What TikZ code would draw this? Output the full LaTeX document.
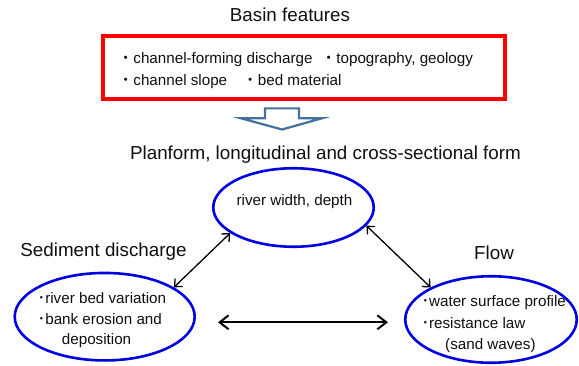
\documentclass[tikz,border=0pt]{standalone}
\usepackage{fontspec}
\setmainfont{Liberation Sans}
\newfontfamily\cjk{Noto Sans CJK JP}
\usetikzlibrary{arrows.meta, shapes.geometric}

\definecolor{boxred}{RGB}{255,0,0}
\definecolor{ringblue}{RGB}{0,0,225}
\definecolor{arrowblue}{RGB}{65,113,156}
\definecolor{ink}{RGB}{15,15,15}

\newcommand{\fullbul}{{\cjk ・}}
\newcommand{\halfbul}{{\cjk ･}}

\begin{document}
\begin{tikzpicture}[x=1pt, y=1pt,
  every node/.style={inner sep=0pt, text=ink},
  heading/.style={font=\fontsize{18.8}{22}\selectfont, anchor=base},
  item/.style={font=\fontsize{15.2}{20}\selectfont, anchor=base west},
  ring/.style={draw=ringblue, line width=2.6pt, ellipse},
  link/.style={arrows={Straight Barb[length=6pt,width=11pt]-Straight Barb[length=6pt,width=11pt]}, line width=1.3pt},
  widelink/.style={arrows={Straight Barb[length=9pt,width=14pt]-Straight Barb[length=9pt,width=14pt]}, line width=2pt}]
				\useasboundingbox (0,0) rectangle (579,365);

				% Basin features
				\node[heading] (basin) at (290,343.3) {Basin features};
				\node[draw=boxred, line width=4pt, minimum width=401.5pt, minimum height=63.5pt] (feat) at (303.75,297.25) {};
				\node[item] (qdis) at (118,301.7) {\fullbul channel-forming discharge};
				\node[item] (topo) at (321,301.7) {\fullbul topography, geology};
				\node[item] (slope) at (118,279.3) {\fullbul channel slope};
				\node[item] (bed) at (242.5,279.3) {\fullbul bed material};

				% Block arrow
				\draw[draw=arrowblue, line width=2.2pt, fill=white] (265,256.6) -- (299,256.6) -- (299,246.7) -- (322,246.7) -- (282,235.5) -- (241,246.7) -- (265,246.7) -- cycle;

				% Ellipses
				\node[heading] (plan) at (325.5,206) {Planform, longitudinal and cross-sectional form};
				\node[ring, minimum width=160.5pt, minimum height=78.5pt] (form) at (293.5,157.5) {};
				\node[item, anchor=base] (formtxt) at (294.5,159.3) {river width, depth};

				\node[heading] (sedtitle) at (103.5,108.3) {Sediment discharge};
				\node[ring, minimum width=180pt, minimum height=87.5pt] (sed) at (104.7,48.3) {};
				\node[item] (seda) at (37.5,61.7) {\halfbul river bed variation};
				\node[item] (sedb) at (37.5,40.6) {\halfbul bank erosion and};
				\node[item] (sedc) at (61.7,20.2) {deposition};

				\node[heading] (flowtitle) at (494,106) {Flow};
				\node[ring, minimum width=171.5pt, minimum height=86.5pt] (flow) at (491,45.5) {};
				\node[item] (flowa) at (421.3,59) {\halfbul water surface profile};
				\node[item] (flowb) at (421.3,37) {\halfbul resistance law};
				\node[item] (flowc) at (445,15.5) {(sand waves)};

				% Links
				\draw[link] (form.202) -- (sed.23);
				\draw[link] (form.346) -- (flow.152);
				\draw[widelink] ([xshift=22pt,yshift=-5.6pt]sed.east) -- ([xshift=-16pt,yshift=-2.8pt]flow.west);
\end{tikzpicture}
\end{document}
